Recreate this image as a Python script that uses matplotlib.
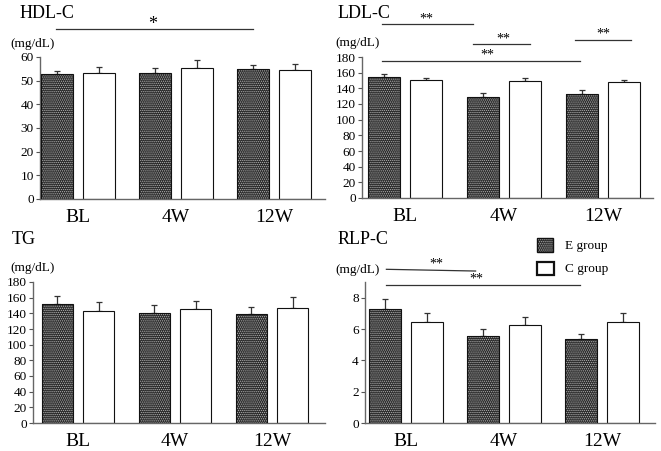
import numpy as np
import matplotlib
matplotlib.use("Agg")
import matplotlib.pyplot as plt
from matplotlib.patches import Rectangle

plt.rcParams['font.family'] = ['Liberation Serif', 'DejaVu Serif']
plt.rcParams['hatch.linewidth'] = 0.6

W, H = 661, 451

# data
weeks = ['BL', '4W', '12W']
hdl_e = [52.7, 53.4, 54.8]
hdl_e_err = [1.4, 1.9, 1.7]
hdl_c = [53.2, 55.5, 54.5]
hdl_c_err = [2.6, 3.2, 2.5]
ldl_e = [154.9, 129.3, 132.3]
ldl_e_err = [3.8, 4.2, 5.2]
ldl_c = [150.6, 149.7, 147.6]
ldl_c_err = [3.0, 3.9, 3.0]
tg_e = [151.8, 141.0, 139.4]
tg_e_err = [10.7, 10.0, 8.1]
tg_c = [143.2, 145.4, 147.0]
tg_c_err = [11.1, 10.6, 14.0]
rlp_e = [7.3, 5.53, 5.34]
rlp_e_err = [0.6, 0.49, 0.36]
rlp_c = [6.47, 6.28, 6.47]
rlp_c_err = [0.53, 0.46, 0.57]

fig = plt.figure(figsize=(W / 100, H / 100), dpi=100)


def px_axes(left, right, top, bottom):
    return fig.add_axes([left / W, 1 - bottom / H, (right - left) / W, (bottom - top) / H])


def panel(box, c0, sp, e, e_err, c, c_err, ymax, yticks, title, tpos, upos):
    left, right, top, bottom = box
    ax = px_axes(left, right, top, bottom)
    x = np.arange(3)
    off, w = 0.215, 0.32
    # dotted dark bars
    ax.bar(x - off, e, w, color='#2a2a2a', edgecolor='#b5b5b5', hatch='........', linewidth=0, zorder=2)
    ax.bar(x - off, e, w, fill=False, edgecolor='#111111', linewidth=0.8, zorder=3)
    ax.bar(x + off, c, w, color='white', edgecolor='#111111', linewidth=0.8, zorder=2)
    ax.errorbar(x - off, e, yerr=[np.zeros(3), e_err], fmt='none', ecolor='#333333',
                elinewidth=0.9, capsize=2, capthick=0.9, zorder=1)
    ax.errorbar(x + off, c, yerr=[np.zeros(3), c_err], fmt='none', ecolor='#333333',
                elinewidth=0.9, capsize=2, capthick=0.9, zorder=1)
    ax.set_xlim((left - c0) / sp, (right - c0) / sp)
    ax.set_ylim(0, ymax)
    ax.set_yticks(yticks)
    ax.set_xticks(x)
    ax.set_xticklabels(weeks, fontsize=14)
    ax.tick_params(axis='x', length=0, pad=7)
    ax.tick_params(axis='y', length=3, width=0.8, pad=1.5, labelsize=9.5, color='#555555')
    for s in ['top', 'right']:
        ax.spines[s].set_visible(False)
    for s in ['left', 'bottom']:
        ax.spines[s].set_color('#666666')
        ax.spines[s].set_linewidth(1.0)
    fig.text(tpos[0] / W, 1 - tpos[1] / H, title, fontsize=13, va='center', ha='left')
    fig.text(upos[0] / W, 1 - upos[1] / H, '(mg/dL)', fontsize=9.5, va='center', ha='left')
    return ax


def sig(ax, x0, x1, y0, y1, tx, ty, txt='**', fs=10):
    ax.plot([x0, x1], [y0, y1], color='#333333', lw=0.9, clip_on=False)
    ax.text(tx, ty, txt, ha='center', va='center', fontsize=fs, clip_on=False)


ax1 = panel((40, 325, 57, 199), 78, 98, hdl_e, hdl_e_err, hdl_c, hdl_c_err,
            60, np.arange(0, 61, 10), 'HDL-C', (20, 14), (10, 44))
sig(ax1, -0.22, 1.79, 71.8, 71.8, 0.76, 73.6, '*', 13)

ax2 = panel((362, 653, 57, 198), 405, 99, ldl_e, ldl_e_err, ldl_c, ldl_c_err,
            180, np.arange(0, 181, 20), 'LDL-C', (338, 14), (335, 43))
sig(ax2, -0.23, 0.69, 222, 222, 0.22, 228)
sig(ax2, 0.69, 1.26, 196.6, 196.6, 0.99, 203)
sig(ax2, -0.23, 1.77, 175, 175, 0.83, 183)
sig(ax2, 1.72, 2.28, 201.7, 201.7, 2.0, 209)

ax3 = panel((33, 325, 282, 423), 78, 97, tg_e, tg_e_err, tg_c, tg_c_err,
            180, np.arange(0, 181, 20), 'TG', (12, 240), (10, 268))

ax4 = panel((365, 655, 282, 423), 406, 98, rlp_e, rlp_e_err, rlp_c, rlp_c_err,
            9, np.arange(0, 9, 2), 'RLP-C', (338, 240), (335, 270))
sig(ax4, -0.2, 0.71, 9.81, 9.70, 0.31, 10.15)
sig(ax4, -0.2, 1.78, 8.81, 8.81, 0.72, 9.2)

# legend
fig.patches.append(Rectangle((537 / W, 1 - 252 / H), 16 / W, 14 / H, transform=fig.transFigure,
                             facecolor='#2a2a2a', edgecolor='#b5b5b5', hatch='........', lw=0))
fig.patches.append(Rectangle((537 / W, 1 - 252 / H), 16 / W, 14 / H, transform=fig.transFigure,
                             fill=False, edgecolor='#111111', lw=1.0))
fig.patches.append(Rectangle((537 / W, 1 - 275 / H), 17 / W, 13 / H, transform=fig.transFigure,
                             facecolor='white', edgecolor='#111111', lw=1.6))
fig.text(565 / W, 1 - 246 / H, 'E group', fontsize=9.5, va='center', ha='left')
fig.text(565 / W, 1 - 269 / H, 'C group', fontsize=9.5, va='center', ha='left')

fig.savefig('out.png', dpi=100)
